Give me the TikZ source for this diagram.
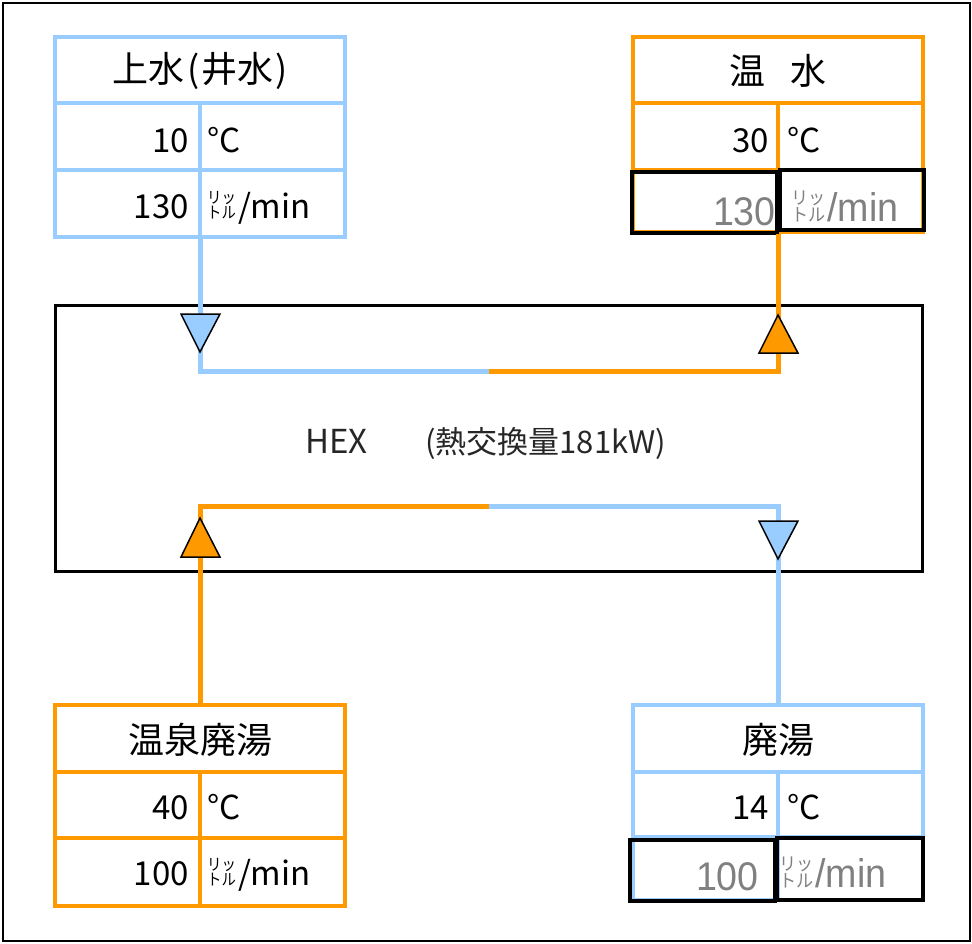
\documentclass[tikz,border=0pt]{standalone}
\usepackage{fontspec}
\setmainfont{Noto Sans CJK JP}
\newfontfamily\jp{Noto Sans CJK JP}
\newfontfamily\grayfont[FakeStretch=0.94]{Liberation Sans}
\definecolor{pblue}{RGB}{153,204,255}
\definecolor{porange}{RGB}{255,153,0}
\newcommand{\litre}[3]{\scalebox{#3}[1]{\jp\fontsize{#1}{#2}\selectfont\vbox{\baselineskip=#2pt\hbox{リッ}\hbox{トル}}}}
\tikzset{
  txt/.style={font=\fontsize{33}{33}\selectfont, inner sep=0pt},
  ttl/.style={font=\fontsize{36}{36}\selectfont, inner sep=0pt},
  gtxt/.style={font=\grayfont\fontsize{40}{40}\selectfont, text=gray, inner sep=0pt},
  tblframe/.style={draw=#1, line width=4pt, minimum width=290pt, inner sep=0pt},
  rule/.style={draw=#1, line width=4pt},
  pipe/.style={line width=5pt, draw=#1, line join=miter},
  tri/.style={draw=black, line width=1.5pt, fill=#1, line join=miter},
  blk/.style={draw=black, line width=4pt, inner sep=0pt},
}
\begin{document}
\begin{tikzpicture}[x=1pt,y=-1pt]
\useasboundingbox (0,0) rectangle (972,943);
\node[draw=black, line width=2pt, minimum width=967pt, minimum height=938pt, inner sep=0pt] (frame) at (486.5,472) {};

% HEX box
\node[draw=black, line width=3pt, minimum width=867pt, minimum height=266pt, inner sep=0pt] (hex) at (488.5,438) {};

% tables
\node[tblframe=pblue, minimum height=200pt] (tl) at (200,137) {};
\draw[rule=pblue] (55,103) -- (345,103) (55,170) -- (345,170) (200,103) -- (200,237);

\node[tblframe=porange, minimum height=195pt] (tr) at (778,134.5) {};
\draw[rule=porange] (633,103) -- (923,103) (633,170) -- (923,170) (778,103) -- (778,232);

\node[tblframe=porange, minimum height=201pt] (bl) at (200,805.5) {};
\draw[rule=porange] (55,772) -- (345,772) (55,838) -- (345,838) (200,772) -- (200,906);

\node[tblframe=pblue, minimum height=195pt] (br) at (778,802.5) {};
\draw[rule=pblue] (633,772) -- (923,772) (633,837) -- (923,837) (778,772) -- (778,900);

% black highlight boxes
\node[blk, minimum width=145pt, minimum height=61pt] (trb1) at (704.5,202.5) {};
\node[blk, minimum width=144pt, minimum height=60pt] (trb2) at (852,200) {};
\node[blk, minimum width=145pt, minimum height=61pt] (brb1) at (702.5,870.5) {};
\node[blk, minimum width=146pt, minimum height=62pt] (brb2) at (850,869) {};

% pipes
\coordinate (mt) at (489,371);
\coordinate (mb) at (489,506);
\draw[pipe=pblue] (tl.south) |- (mt);
\draw[pipe=porange] (mt) -| (tr.south);
\draw[pipe=porange] (bl.north) |- (mb);
\draw[pipe=pblue] (mb) -| (br.north);

% triangles
\draw[tri=pblue] (181,314) -- (220,314) -- (200,352) -- cycle;
\draw[tri=porange] (759,353) -- (798,353) -- (778,315) -- cycle;
\draw[tri=porange] (181,557) -- (220,557) -- (200,518) -- cycle;
\draw[tri=pblue] (759,521) -- (798,521) -- (778,559) -- cycle;

% HEX text
\node[font=\fontsize{33}{33}\selectfont, inner sep=0pt, anchor=base west, text=black!85] (hext) at (305,453) {HEX};
\node[font=\fontsize{31}{31}\selectfont, inner sep=0pt, anchor=base west, text=black!85] (hexv) at (425,453) {(熱交換量181kW)};

% top-left texts
\node[ttl] (tlt) at (200,71) {上水\kern3pt(\kern2pt井水\kern2pt)};
\node[txt, anchor=base east] (tlv1) at (189,152) {10};
\node[txt, anchor=base west] (tlu1) at (207,152) {°C};
\node[txt, anchor=base east] (tlv2) at (189,218) {130};
\node[txt, anchor=base west] (tlu2) at (207,218) {\litre{16}{15}{0.9}\kern2pt/min};

% top-right texts
\node[ttl] (trt) at (778,71) {温\hspace{25pt}水};
\node[txt, anchor=base east] (trv1) at (769,152) {30};
\node[txt, anchor=base west] (tru1) at (787,152) {°C};
\node[gtxt, anchor=base east] (trv2) at (776,225) {130};
\node[gtxt, anchor=base west] (tru2) at (791,221) {\litre{18}{15}{0.95}\kern2pt/min};

% bottom-left texts
\node[ttl] (blt) at (200,740) {温泉廃湯};
\node[txt, anchor=base east] (blv1) at (189,819) {40};
\node[txt, anchor=base west] (blu1) at (207,819) {°C};
\node[txt, anchor=base east] (blv2) at (189,885) {100};
\node[txt, anchor=base west] (blu2) at (207,885) {\litre{16}{15}{0.9}\kern2pt/min};

% bottom-right texts
\node[ttl] (brt) at (778,740) {廃湯};
\node[txt, anchor=base east] (brv1) at (769,819) {14};
\node[txt, anchor=base west] (bru1) at (787,819) {°C};
\node[gtxt, anchor=base east] (brv2) at (759,890) {100};
\node[gtxt, anchor=base west] (bru2) at (779,887) {\litre{18}{15}{0.95}\kern2pt/min};
\end{tikzpicture}
\end{document}
